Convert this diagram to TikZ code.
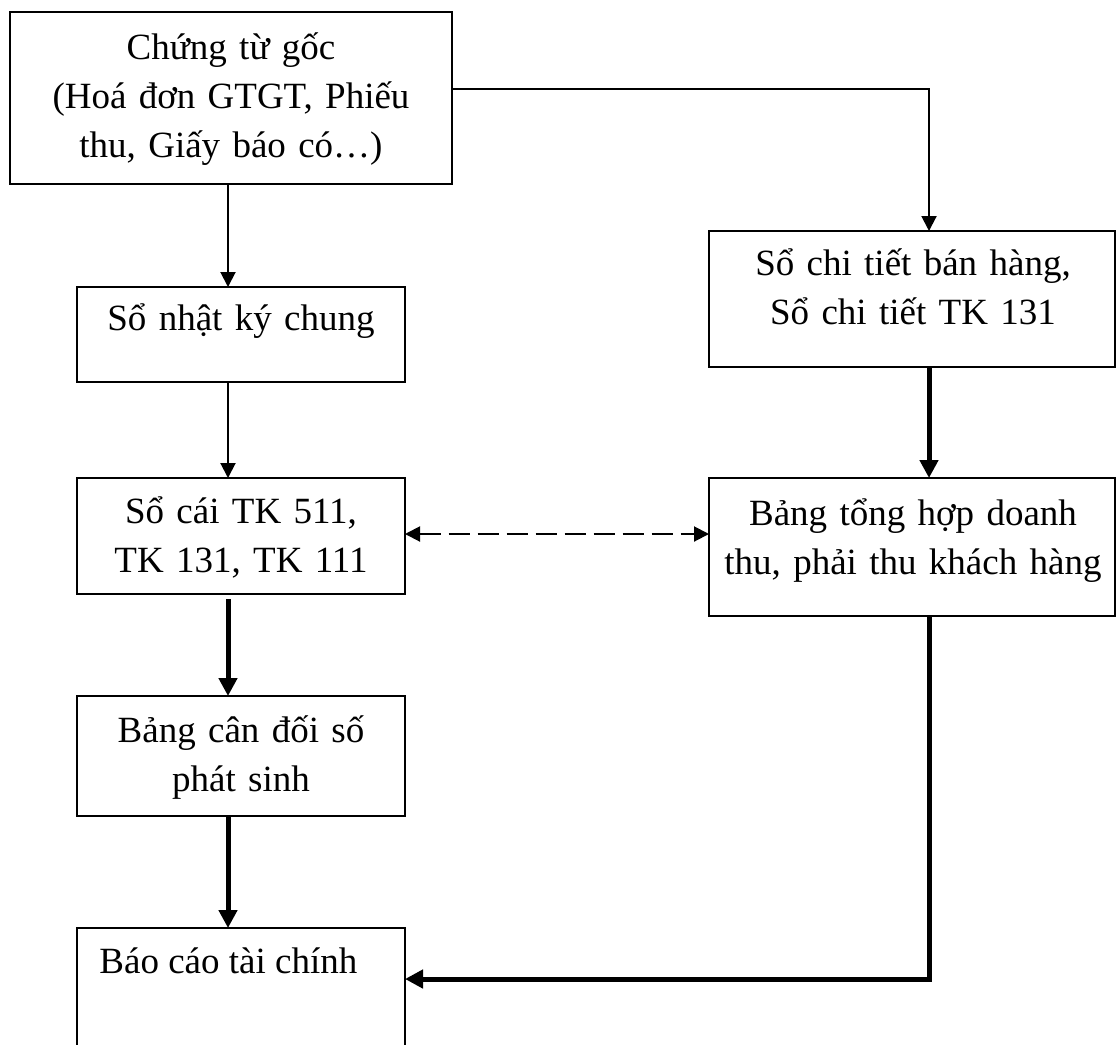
\documentclass[tikz,border=0pt]{standalone}
\usepackage{fontspec}
\setmainfont{Liberation Serif}
\usetikzlibrary{arrows.meta}
\begin{document}
\begin{tikzpicture}[x=0.5pt,y=-0.5pt,
  box/.style={draw, line width=1pt, rectangle, inner sep=0pt, outer sep=0pt},
  txt/.style={anchor=base, inner sep=0pt, text width=200pt, align=center,
    font=\fontsize{18.5}{24.5}\selectfont},
  txtleft/.style={anchor=base west, inner sep=0pt,
    font=\fontsize{18.5}{24.5}\selectfont},
  flow/.style={line width=1pt, -{Triangle[length=7.5pt,width=7.5pt]}},
  bold/.style={line width=2.5pt, -{Triangle[length=9pt,width=9pt]}},
  twoway/.style={line width=1pt, dash pattern=on 10.5pt off 4pt,
    {Triangle[length=7.5pt,width=7.5pt]}-{Triangle[length=7.5pt,width=7.5pt]}},
]
\useasboundingbox (0,0) rectangle (1117,1044);

% boxes
\node[box, minimum width=221pt, minimum height=86pt]  (src)   at (231,98)    {};
\node[box, minimum width=164pt, minimum height=47.5pt] (nkc)  at (241,334.5) {};
\node[box, minimum width=164pt, minimum height=58pt]  (socai) at (241,536)   {};
\node[box, minimum width=164pt, minimum height=60pt]  (cdps)  at (241,756)   {};
\node[box, minimum width=164pt, minimum height=71pt]  (bctc)  at (241,999)   {};
\node[box, minimum width=203pt, minimum height=68pt]  (ctbh)  at (912,299)   {};
\node[box, minimum width=203pt, minimum height=69pt]  (thdt)  at (912,547)   {};

% box texts
\node[txt] (tsrc)   at (231,59)  {Chứng từ gốc\\(Hoá đơn GTGT, Phiếu\\thu, Giấy báo có…)};
\node[txt] (tnkc)   at (241,330) {Sổ nhật ký chung};
\node[txt] (tsocai) at (241,523) {Sổ cái TK 511,\\ TK 131, TK 111};
\node[txt] (tcdps)  at (241,742) {Bảng cân đối số\\phát sinh};
\node[txtleft] (tbctc) at (99,973) {Báo cáo tài chính};
\node[txt] (tctbh)  at (913,275) {Sổ chi tiết bán hàng,\\Sổ chi tiết TK 131};
\node[txt] (tthdt)  at (913,525) {Bảng tổng hợp doanh\\thu, phải thu khách hàng};

% routing points
\coordinate (colL) at (228,0);
\coordinate (bendA) at (929,89);
\coordinate (dashrow) at (557,534);
\coordinate (bendG) at (929,979);

% connectors
\draw[flow] (src.south -| colL) -- (nkc.north -| colL);
\draw[flow] (src.east |- bendA) -- (bendA) -- (ctbh.north -| bendA);
\draw[flow] (nkc.south -| colL) -- (socai.north -| colL);
\draw[bold, shorten <=2.5pt] (socai.south -| colL) -- (cdps.north -| colL);
\draw[bold] (cdps.south -| colL) -- (bctc.north -| colL);
\draw[bold] (ctbh.south -| bendG) -- (thdt.north -| bendG);
\draw[bold] (thdt.south -| bendG) -- (bendG) -- (bctc.east |- bendG);
\draw[twoway] (socai.east |- dashrow) -- (thdt.west |- dashrow);
\end{tikzpicture}
\end{document}
